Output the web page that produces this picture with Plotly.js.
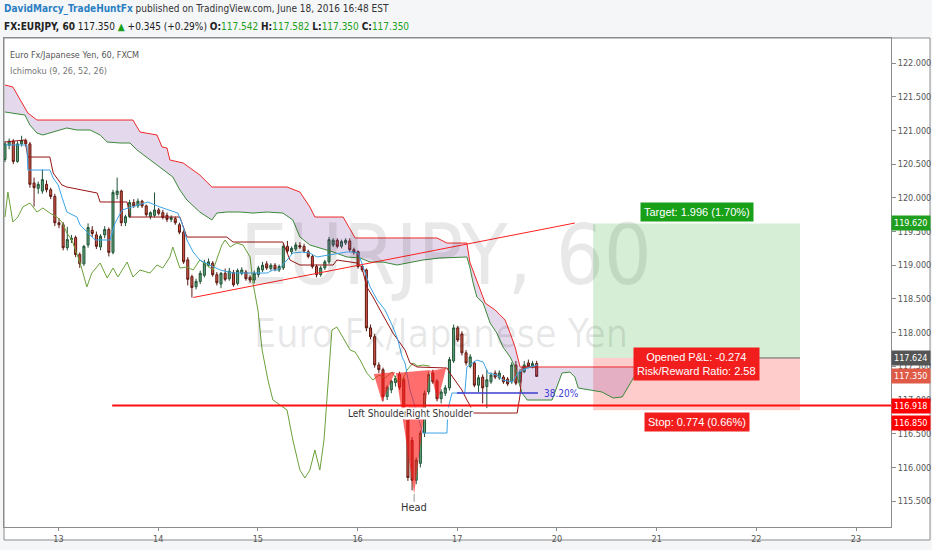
<!DOCTYPE html>
<html><head><meta charset="utf-8">
<script src="https://cdn.plot.ly/plotly-3.0.1.min.js"></script>
<style>html,body{margin:0;padding:0;background:#f5f6f8;}#chart{width:932px;height:550px;}</style>
</head><body><div id="chart"></div>
<script>
// ---- hourly EUR/JPY candles (bar index = hour since first bar) ----
const openP = [120.57,120.78,120.84,120.54,120.80,120.85,120.80,120.22,120.14,120.10,
120.20,120.12,120.02,119.63,119.60,119.26,119.38,119.41,119.16,119.02,
119.30,119.52,119.45,119.27,119.45,119.53,119.19,120.05,120.10,119.63,
119.72,119.93,119.88,119.95,119.88,119.72,119.74,119.82,119.78,119.74,
119.68,119.69,119.60,119.49,119.08,118.83,118.68,118.76,118.85,119.00,
119.03,118.86,118.72,118.88,118.80,118.89,118.73,118.88,118.90,118.82,
118.78,118.86,118.93,119.02,118.95,119.00,118.93,118.96,119.28,119.20,
119.24,119.29,119.28,119.20,119.13,118.98,118.86,118.96,119.05,119.30,
119.37,119.28,119.33,119.36,119.23,119.20,118.98,118.93,118.07,117.94,
117.52,117.45,117.05,117.15,117.26,117.38,117.30,116.75,116.40,115.81,
116.06,116.51,117.12,117.40,117.28,117.02,117.10,117.18,117.58,118.07,
117.98,117.70,117.50,117.55,117.22,117.34,117.20,117.27,117.40,117.33,
117.34,117.31,117.27,117.52,117.27,117.42,117.55,117.50,117.542];
const highP = [120.84,120.88,120.87,120.84,120.92,120.88,120.83,120.30,120.24,120.42,
120.26,120.15,120.06,119.70,119.64,119.57,119.45,119.44,119.19,119.30,
119.62,119.58,119.50,119.46,119.58,119.56,120.12,120.30,120.12,119.75,
119.97,119.98,119.99,119.97,119.90,119.80,120.08,119.85,119.82,119.78,
119.74,119.72,119.63,119.52,119.12,118.86,118.80,118.92,119.08,119.10,
119.06,118.90,118.90,118.95,118.96,118.93,118.95,118.97,118.93,118.85,
118.92,118.99,119.05,119.06,119.03,119.03,119.01,119.32,119.36,119.28,
119.34,119.34,119.32,119.23,119.16,119.01,118.99,119.08,119.42,119.40,
119.40,119.38,119.40,119.40,119.26,119.22,119.01,118.95,118.12,117.98,
117.56,117.48,117.22,117.30,117.36,117.42,117.34,116.80,116.45,116.15,
116.55,117.14,117.42,117.45,117.31,117.16,117.22,117.64,118.12,118.10,
118.02,117.74,117.68,117.58,117.37,117.38,117.45,117.41,117.44,117.44,
117.37,117.34,117.56,117.58,117.46,117.58,117.60,117.58,117.582];
const lowP = [120.53,120.72,120.50,120.52,120.76,120.76,120.15,119.87,120.06,120.06,
120.08,119.98,119.58,119.55,119.22,119.22,119.33,119.12,118.96,118.99,
119.26,119.42,119.24,119.22,119.40,119.13,119.16,119.98,119.58,119.58,
119.70,119.85,119.85,119.85,119.72,119.68,119.71,119.74,119.68,119.64,
119.64,119.60,119.46,119.02,118.70,118.52,118.64,118.72,118.82,118.97,
118.83,118.70,118.66,118.76,118.77,118.68,118.70,118.85,118.77,118.74,
118.73,118.82,118.90,118.93,118.92,118.91,118.90,118.93,119.18,119.16,
119.21,119.24,119.18,119.10,118.95,118.82,118.83,118.93,119.02,119.27,
119.25,119.25,119.30,119.20,119.16,118.95,118.90,118.02,117.90,117.48,
117.40,116.98,117.00,117.10,117.20,117.15,116.70,115.80,115.66,115.75,
116.00,116.45,117.08,117.24,116.98,116.95,117.06,117.14,117.55,117.86,
117.66,117.51,117.47,117.19,117.12,116.95,116.88,117.24,117.31,117.30,
117.24,117.21,117.24,117.22,117.24,117.40,117.47,117.47,117.35];
const closeP = [120.80,120.84,120.54,120.80,120.85,120.80,120.20,120.15,120.20,120.27,
120.12,120.02,119.63,119.60,119.26,119.38,119.40,119.16,119.02,119.28,
119.56,119.47,119.28,119.43,119.53,119.19,120.08,120.10,119.63,119.72,
119.93,119.88,119.95,119.88,119.75,119.78,119.82,119.77,119.71,119.68,
119.71,119.63,119.49,119.05,118.79,118.67,118.76,118.88,119.03,119.05,
118.86,118.74,118.88,118.79,118.91,118.71,118.92,118.93,118.80,118.78,
118.88,118.96,119.00,118.96,119.00,118.94,118.98,119.28,119.21,119.25,
119.30,119.27,119.21,119.13,118.98,118.86,118.96,119.05,119.38,119.37,
119.28,119.35,119.37,119.23,119.19,118.98,118.93,118.07,117.94,117.52,
117.45,117.05,117.19,117.28,117.32,117.19,116.75,115.85,115.81,116.11,
116.51,117.10,117.38,117.27,117.02,117.12,117.18,117.60,118.07,117.89,
117.70,117.55,117.64,117.22,117.33,117.18,117.30,117.37,117.34,117.40,
117.27,117.24,117.52,117.25,117.42,117.52,117.50,117.54,117.35];
const barIdx = openP.map((_, i) => i);

// ---- Ichimoku (9, 26, 52, 26) lines ----
const spanBX = [0,1.9,5.5,7.7,30.8,32.5,36.6,37.8,39.0,39.7,42.9,46.9,49.8,67.9,71.0,73.4,74.6,81.4,84.3,104.0,106.4,111.2,111.9,113.6,115.6,118.0,120.4,121.6,122.8,124.0,152.4];
const spanBY = [121.674,121.644,121.258,121.154,121.154,120.976,120.932,120.754,120.739,120.561,120.516,120.338,120.160,120.160,120.086,119.864,119.715,119.715,119.404,119.404,119.329,119.329,119.047,118.780,118.439,118.335,118.187,117.994,117.786,117.490,117.490];
const spanAX = [0,4.8,6.0,7.7,9.1,11.6,14.9,17.3,20.5,22.9,24.6,27.7,30.1,31.8,34.9,37.3,40.4,42.1,43.8,46.9,49.8,51.0,53.4,56.6,59.7,63.1,66.9,69.3,71.0,73.4,75.8,79.0,82.3,85.5,87.9,91.0,94.4,96.8,100.6,104.7,111.2,111.9,112.7,113.6,115.1,116.8,118.4,119.9,121.6,122.8,123.5,124.5,125.7,131.7,133.1,134.1,136.0,137.2,138.0,140.8,143.7,146.4,148.6,150.0,151.7,152.4];
const spanAY = [121.273,121.228,121.080,120.961,120.932,120.976,121.036,121.006,121.006,120.932,120.828,120.813,120.813,120.709,120.561,120.457,120.309,120.116,119.967,119.789,119.671,119.774,119.789,119.789,119.774,119.789,119.774,119.671,119.418,119.300,119.255,119.196,119.122,119.107,119.047,119.047,119.003,119.033,119.077,119.107,119.122,118.973,118.736,118.528,118.439,118.142,117.994,117.786,117.638,117.490,117.297,117.104,117.000,117.000,117.223,117.401,117.415,117.341,117.178,117.148,117.119,117.030,117.045,117.193,117.371,117.475];
const baseX = [0,4.8,5.5,10.8,11.6,13.7,14.9,22.2,22.9,29.4,30.1,42.1,43.8,53.4,54.9,66.9,68.6,71.0,79.0,79.9,84.7,85.9,87.1,88.6,90.3,92.0,93.4,95.1,96.3,97.5,99.2,106.4,107.1,108.8,110.0,111.2,111.9,112.7,123.3,124.0,124.5,128.3];
const baseY = [120.828,120.858,120.605,120.605,120.368,120.190,120.160,120.071,119.938,119.938,119.715,119.715,119.418,119.418,119.344,119.344,119.077,119.003,119.003,119.077,119.033,118.973,118.677,118.528,118.335,118.142,117.994,117.846,117.742,117.549,117.490,117.475,117.401,117.252,117.148,117.000,116.926,116.807,116.807,117.074,117.490,117.490];
const convX = [0,5.3,5.5,10.8,11.6,12.8,13.7,14.9,17.3,18.1,19.3,21.7,25.3,26.5,28.2,30.6,34.4,37.3,39.7,41.6,42.6,43.8,45.3,46.9,49.3,51.8,54.9,63.1,64.5,65.7,67.9,69.3,71.5,73.4,75.1,78.2,82.3,83.8,85.0,85.9,87.9,89.6,91.5,93.4,94.6,95.6,96.3,97.5,99.2,100.6,106.4,106.6,107.6,110.7,111.2,113.6,115.1,116.3,118.4,119.9,122.1,123.5,124.7,126.4,128.3];
const convY = [120.783,120.783,120.412,120.412,120.294,120.190,120.012,119.789,119.715,119.596,119.522,119.374,119.374,119.626,119.819,119.864,119.938,119.864,119.819,119.774,119.626,119.374,119.196,119.077,119.003,118.929,118.884,118.884,118.929,118.929,119.077,119.181,119.196,119.181,119.122,119.151,119.196,119.196,119.181,119.033,118.677,118.484,118.335,118.083,117.890,117.638,117.549,117.148,116.807,116.510,116.510,116.852,117.104,117.104,117.490,117.593,117.564,117.401,117.371,117.297,117.267,117.401,117.445,117.490,117.519];
const lagX = [0,0.7,1.9,3.1,4.3,6.0,7.7,9.1,10.8,12.5,13.7,14.9,16.1,18.1,19.7,20.9,22.9,24.6,26.0,27.2,29.4,30.8,32.5,34.9,36.6,38.0,39.7,40.4,42.1,43.8,45.3,46.9,50.1,52.2,53.0,54.2,55.8,57.3,59.0,59.7,60.9,61.9,63.3,64.5,66.2,67.9,69.3,71.0,72.2,73.4,74.6,75.8,76.8,77.8,78.7,79.9,81.8,83.1,84.3,85.5,87.1,88.6,90.0,91.5,93.2,94.6,95.6,96.8,98.2,99.4,100.6,102.3];
const lagY = [119.715,120.086,119.641,119.715,119.864,119.923,119.789,119.849,119.774,119.715,119.641,119.478,119.374,119.033,118.677,118.884,119.033,118.810,118.958,118.825,119.047,118.825,118.929,118.884,119.003,118.958,119.122,119.270,118.958,118.973,118.929,119.077,118.929,119.300,119.374,119.270,119.329,119.300,119.122,118.736,118.335,117.742,117.297,117.000,116.926,116.852,116.407,115.961,115.843,115.961,116.258,115.961,116.407,117.297,118.039,118.083,117.890,117.742,117.712,117.593,117.401,117.297,117.371,117.326,117.415,117.267,117.297,117.445,117.549,117.504,117.519,117.504];

// ---- drawings ----
const trendX = [45.3, 137.2], trendY = [118.521, 119.626];
const supportLevel = 116.918, supportStart = 25.8;
const fibX = [108.8, 128.3], fibLevel = 117.104, fibLabel = '38.20%';
const lsX = [88.8, 93.9, 90.8], lsY = [117.386, 117.415, 116.970];
const headX = [94.1, 102.3, 98.5], headY = [117.401, 117.445, 115.605];
const rsX = [102.3, 106.2, 104.2], rsY = [117.430, 117.475, 116.985];
const posX = [141.6, 191.4];
const targetPrice = 119.620, entryPrice = 117.624, stopPrice = 116.850, lastPrice = 117.350;
const dayTicks = [12.88, 36.88, 60.88, 84.88, 108.88, 132.88, 156.88, 180.88, 204.88];
const dayLabels = ['13','14','15','16','17','20','21','22','23'];

const NARROW = "'Liberation Sans Narrow','Arial Narrow','DejaVu Sans Condensed','Roboto Condensed',sans-serif";

const traces = [
  {type:'scatter', mode:'lines', x:spanAX, y:spanAY, line:{color:'#3b8a3b', width:1}, hoverinfo:'skip'},
  {type:'scatter', mode:'lines', x:spanBX, y:spanBY, line:{color:'#ee2a2a', width:1}, fill:'tonexty', fillcolor:'rgba(120,60,160,0.2)', hoverinfo:'skip'},
  {type:'scatter', mode:'lines', x:lagX, y:lagY, line:{color:'#6aa13a', width:1}, hoverinfo:'skip'},
  {type:'scatter', mode:'lines', x:baseX, y:baseY, line:{color:'#991515', width:1}, hoverinfo:'skip'},
  {type:'scatter', mode:'lines', x:convX, y:convY, line:{color:'#3ba4e8', width:1}, hoverinfo:'skip'},
  {type:'candlestick', x:barIdx, open:openP, high:highP, low:lowP, close:closeP,
   increasing:{line:{color:'#225437', width:1}, fillcolor:'#5ea27a'},
   decreasing:{line:{color:'#5b1a13', width:1}, fillcolor:'#d75442'}, whiskerwidth:0, hoverinfo:'skip'},
  {type:'scatter', mode:'lines', x:trendX, y:trendY, line:{color:'#ff2020', width:1}, hoverinfo:'skip'},
  {type:'scatter', mode:'lines', x:fibX, y:[fibLevel, fibLevel], line:{color:'#3c3cd0', width:1.5}, hoverinfo:'skip'}
];

function tri(xs, ys){ return 'M'+xs[0]+','+ys[0]+' L'+xs[1]+','+ys[1]+' L'+xs[2]+','+ys[2]+' Z'; }
const shapes = [
  {type:'rect', xref:'paper', yref:'paper', x0:0, x1:1.0440, y0:-0.0266, y1:1, fillcolor:'#ffffff', line:{color:'#8c8c8c', width:1}, layer:'below'},
  {type:'rect', xref:'x', yref:'y', x0:posX[0], x1:posX[1], y0:entryPrice, y1:targetPrice, fillcolor:'rgba(46,170,46,0.2)', line:{width:0}, layer:'below'},
  {type:'rect', xref:'x', yref:'y', x0:posX[0], x1:posX[1], y0:stopPrice, y1:entryPrice, fillcolor:'rgba(255,0,0,0.2)', line:{width:0}, layer:'below'},
  {type:'line', xref:'x', yref:'y', x0:152.4, x1:posX[1], y0:entryPrice, y1:entryPrice, line:{color:'#666666', width:1}},
  {type:'line', xref:'x', yref:'y', x0:supportStart, x1:213.3, y0:supportLevel, y1:supportLevel, line:{color:'#ff1010', width:2}},
  {type:'path', xref:'x', yref:'y', path:tri(lsX, lsY), fillcolor:'rgba(255,20,20,0.62)', line:{width:0}},
  {type:'path', xref:'x', yref:'y', path:tri(headX, headY), fillcolor:'rgba(255,20,20,0.62)', line:{width:0}},
  {type:'path', xref:'x', yref:'y', path:tri(rsX, rsY), fillcolor:'rgba(255,20,20,0.62)', line:{width:0}},
  {type:'line', xref:'x', yref:'y', x0:headX[2], x1:headX[2], y0:headY[2], y1:115.49, line:{color:'#999999', width:1}}
];

function priceTag(v, bg, shift){
  return {xref:'paper', yref:'y', x:1, y:v, xanchor:'left', yanchor:'middle', xshift:0, yshift:shift||0,
    text:v.toFixed(3), showarrow:false, bgcolor:bg, borderpad:2, width:34, align:'left',
    font:{family:NARROW, size:9, color:'#ffffff'}};
}
function boxLabel(x, y, txt, bg, ya, ys){
  return {xref:'x', yref:'y', x:x, y:y, text:txt, showarrow:false, bgcolor:bg, borderpad:3, yanchor:ya, yshift:ys||0,
    font:{family:"'Liberation Sans', Arial, sans-serif", size:11, color:'#ffffff'}};
}
const annotations = [
  {xref:'paper', yref:'paper', x:-0.002, y:1.0593, xanchor:'left', yanchor:'middle', showarrow:false,
   text:'<span style="color:#2b7fc3;font-weight:bold">DavidMarcy_TradeHuntFx</span> published on TradingView.com, June 18, 2016 16:48 EST',
   font:{family:NARROW, size:10, color:'#333333'}},
  {xref:'paper', yref:'paper', x:-0.002, y:1.0245, xanchor:'left', yanchor:'middle', showarrow:false,
   text:'<b>FX:EURJPY, 60</b> 117.350 <span style="color:#1aa01a">▲</span> +0.345 (+0.29%) <b>O:</b><span style="color:#22a022">117.542</span> <b>H:</b><span style="color:#22a022">117.582</span> <b>L:</b><span style="color:#22a022">117.350</span> <b>C:</b><span style="color:#22a022">117.350</span>',
   font:{family:NARROW, size:10, color:'#222222'}},
  {xref:'paper', yref:'paper', x:0.0045, y:0.9652, xanchor:'left', yanchor:'middle', showarrow:false,
   text:'Euro Fx/Japanese Yen, 60, FXCM', font:{family:NARROW, size:9, color:'#555555'}},
  {xref:'paper', yref:'paper', x:0.0045, y:0.9325, xanchor:'left', yanchor:'middle', showarrow:false,
   text:'Ichimoku (9, 26, 52, 26)', font:{family:NARROW, size:9, color:'#777777'}},
  {xref:'paper', yref:'paper', x:0.4983, y:0.5562, xanchor:'center', yanchor:'middle', showarrow:false,
   text:'EURJPY, 60', font:{family:NARROW, size:84, color:'rgba(0,0,0,0.09)'}},
  {xref:'paper', yref:'paper', x:0.4927, y:0.3967, xanchor:'center', yanchor:'middle', showarrow:false,
   text:'Euro Fx/Japanese Yen', font:{family:NARROW, size:39, color:'rgba(0,0,0,0.09)'}},
  {xref:'x', yref:'y', x:lsX[2]-1, y:116.807, text:'Left Shoulder', showarrow:false, bgcolor:'#ffffff', borderpad:0,
   font:{family:NARROW, size:10, color:'#333333'}},
  {xref:'x', yref:'y', x:rsX[2]+0.5, y:116.807, text:'Right Shoulder', showarrow:false, bgcolor:'#ffffff', borderpad:0,
   font:{family:NARROW, size:10, color:'#333333'}},
  {xref:'x', yref:'y', x:headX[2], y:115.40, text:'Head', showarrow:false,
   font:{family:NARROW, size:11, color:'#333333'}},
  {xref:'x', yref:'y', x:fibX[1]+1, y:fibLevel, xanchor:'left', text:fibLabel, showarrow:false,
   font:{family:NARROW, size:10, color:'#3c3cd8'}},
  boxLabel(166.5, targetPrice, 'Target: 1.996 (1.70%)', '#18a018', 'bottom', 1),
  boxLabel(166.5, 117.53, 'Opened P&L: -0.274<br>Risk/Reward Ratio: 2.58', '#f21e1e', 'middle', 0),
  boxLabel(166.5, stopPrice, 'Stop: 0.774 (0.66%)', '#f21e1e', 'top', -2),
  priceTag(targetPrice, '#1f9f1f'),
  priceTag(entryPrice, '#555555'),
  priceTag(lastPrice, '#df5a47'),
  priceTag(supportLevel, '#ff0000'),
  priceTag(stopPrice, '#ff0000', -13)
];

const layout = {
  width:932, height:550,
  margin:{l:4, r:41, t:38, b:23, pad:0},
  paper_bgcolor:'#f5f6f8', plot_bgcolor:'#ffffff',
  showlegend:false, hovermode:false, dragmode:false,
  xaxis:{range:[-0.24, 213.3], tickmode:'array', tickvals:dayTicks, ticktext:dayLabels,
    showgrid:false, zeroline:false, showline:true, mirror:true, linecolor:'#8c8c8c', linewidth:1,
    ticks:'outside', ticklen:3, tickcolor:'#8c8c8c', rangeslider:{visible:false},
    tickfont:{family:NARROW, size:9, color:'#555555'}},
  yaxis:{range:[115.116, 122.371], side:'right', tick0:115.5, dtick:0.5, tickformat:'.3f',
    showgrid:false, zeroline:false, showline:true, mirror:true, linecolor:'#8c8c8c', linewidth:1,
    ticks:'outside', ticklen:4, tickcolor:'#8c8c8c',
    tickfont:{family:NARROW, size:9, color:'#555555'}},
  shapes:shapes, annotations:annotations
};
Plotly.newPlot('chart', traces, layout, {staticPlot:true, displayModeBar:false});
</script></body></html>
